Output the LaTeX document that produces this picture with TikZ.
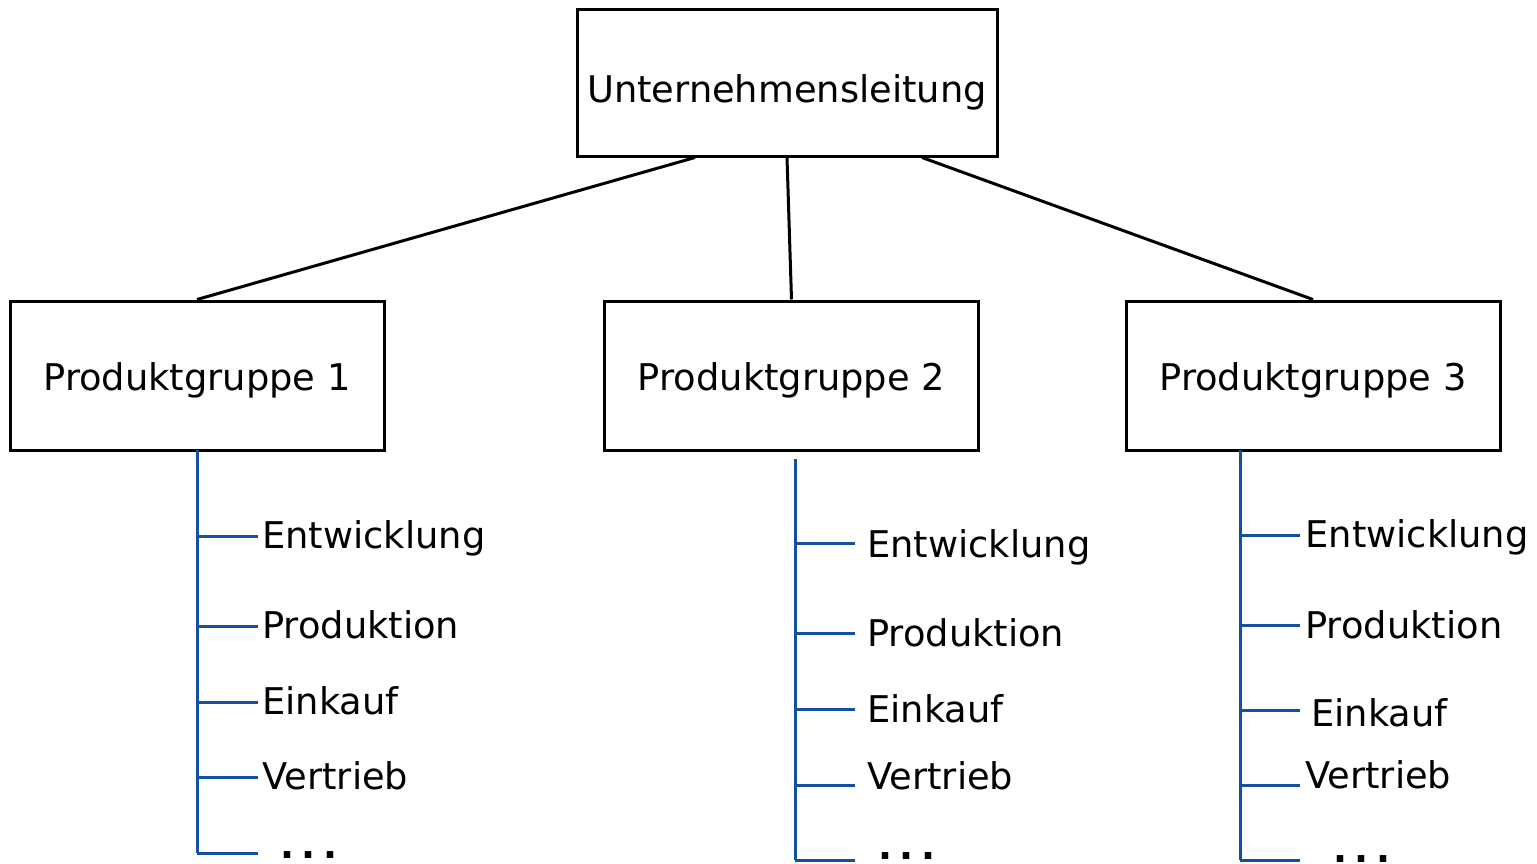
\documentclass[tikz,border=0pt]{standalone}
\usepackage{fontspec}
\setmainfont{DejaVu Sans}
\usetikzlibrary{positioning}
\definecolor{treeblue}{RGB}{20,80,160}

\begin{document}
\begin{tikzpicture}[x=0.5pt, y=-0.5pt,
  font=\fontsize{18.4}{22}\selectfont,
  box/.style={draw, line width=1.5pt, inner sep=0pt, text depth=0pt},
  edge/.style={line width=1.5pt},
  branch/.style={treeblue, line width=1.5pt},
  item/.style={anchor=west, inner sep=0pt, text height=12.5pt, text depth=0pt},
  dots/.style={anchor=west, inner sep=0pt, text height=3.4pt, text depth=0pt, font=\fontsize{18.4}{22}\selectfont\bfseries}]
\useasboundingbox (0,0) rectangle (1537,863);
% boxes
\node[box, minimum width=210pt, minimum height=73.5pt, text height=19.5pt] (leitung) at (787,82.5) {Unternehmensleitung};
\node[box, minimum width=187pt, minimum height=74.5pt, text height=14.5pt] (pg1) at (197,375.5) {Produktgruppe 1};
\node[box, minimum width=187pt, minimum height=74.5pt, text height=14.5pt] (pg2) at (791.5,375.5) {Produktgruppe 2};
\node[box, minimum width=187pt, minimum height=74.5pt, text height=14.5pt] (pg3) at (1313,375.5) {Produktgruppe 3};
\draw[edge] ([xshift=-46pt]leitung.south) -- (pg1.north);
\draw[edge] (leitung.south) -- (pg2.north);
\draw[edge] ([xshift=67.5pt]leitung.south) -- (pg3.north);
% Produktgruppe 1
\coordinate (s1) at (197,450);
\coordinate (b11) at (258,536);
\coordinate (b12) at (258,626);
\coordinate (b13) at (258,702);
\coordinate (b14) at (258,777);
\coordinate (b15) at (258,853);
\node[item, right=2pt of b11] (e1) {Entwicklung};
\node[item, right=2pt of b12] (p1) {Produktion};
\node[item, right=2pt of b13] (k1) {Einkauf};
\node[item, right=2pt of b14] (v1) {Vertrieb};
\node[dots] (d1) at (280,855) {.\hspace{3.8pt}.\hspace{3.8pt}.};
\draw[branch] (s1) -- (s1 |- b15);
\draw[branch] (s1 |- b11) -- (b11);
\draw[branch] (s1 |- b12) -- (b12);
\draw[branch] (s1 |- b13) -- (b13);
\draw[branch] (s1 |- b14) -- (b14);
\draw[branch] (s1 |- b15) -- (b15);
% Produktgruppe 2
\coordinate (s2) at (795,459);
\coordinate (b21) at (855,543);
\coordinate (b22) at (855,633);
\coordinate (b23) at (855,709);
\coordinate (b24) at (855,785);
\coordinate (b25) at (855,860);
\node[item] (e2) at (867,545) {Entwicklung};
\node[item] (p2) at (867,634) {Produktion};
\node[item] (k2) at (867,710) {Einkauf};
\node[item] (v2) at (867,777) {Vertrieb};
\node[dots] (d2) at (878,856) {.\hspace{3.8pt}.\hspace{3.8pt}.};
\draw[branch] (s2) -- (s2 |- b25);
\draw[branch] (s2 |- b21) -- (b21);
\draw[branch] (s2 |- b22) -- (b22);
\draw[branch] (s2 |- b23) -- (b23);
\draw[branch] (s2 |- b24) -- (b24);
\draw[branch] (s2 |- b25) -- (b25);
% Produktgruppe 3
\coordinate (s3) at (1240,450);
\coordinate (b31) at (1300,535);
\coordinate (b32) at (1300,625);
\coordinate (b33) at (1300,710);
\coordinate (b34) at (1300,785);
\coordinate (b35) at (1300,860);
\node[item] (e3) at (1305,535) {Entwicklung};
\node[item] (p3) at (1305,626) {Produktion};
\node[item] (k3) at (1311,714) {Einkauf};
\node[item] (v3) at (1305,776) {Vertrieb};
\node[dots] (d3) at (1333,859) {.\hspace{3.8pt}.\hspace{3.8pt}.};
\draw[branch] (s3) -- (s3 |- b35);
\draw[branch] (s3 |- b31) -- (b31);
\draw[branch] (s3 |- b32) -- (b32);
\draw[branch] (s3 |- b33) -- (b33);
\draw[branch] (s3 |- b34) -- (b34);
\draw[branch] (s3 |- b35) -- (b35);
\end{tikzpicture}
\end{document}
